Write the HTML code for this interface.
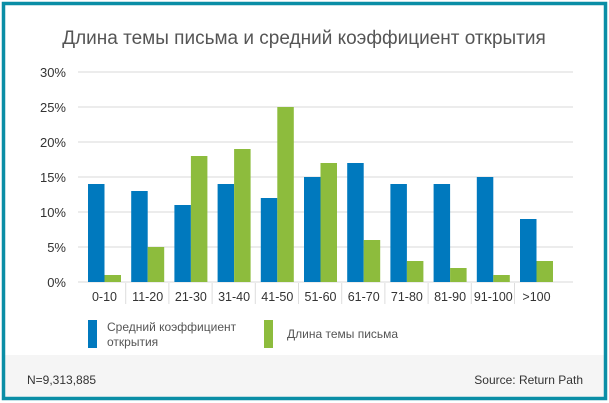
<!DOCTYPE html>
<html><head><meta charset="utf-8"><style>
body{margin:0;background:#fff}
svg{display:block;font-family:"Liberation Sans","DejaVu Sans",sans-serif}
</style></head><body>
<svg width="609" height="403" viewBox="0 0 609 403">
<rect x="0" y="0" width="609" height="403" fill="#fff"/>
<rect x="4" y="355" width="601" height="43" fill="#f5f5f5"/>
<rect x="3.5" y="3.5" width="602" height="395" fill="none" stroke="#0a8ea6" stroke-width="3.5"/>
<text x="304" y="44" text-anchor="middle" font-size="19" fill="#555">Длина темы письма и средний коэффициент открытия</text>
<g stroke="#e6e6e6" stroke-width="1.5">
<line x1="78" x2="573" y1="72" y2="72"/><line x1="78" x2="573" y1="107" y2="107"/>
<line x1="78" x2="573" y1="142" y2="142"/><line x1="78" x2="573" y1="177" y2="177"/>
<line x1="78" x2="573" y1="212" y2="212"/><line x1="78" x2="573" y1="247" y2="247"/>
<line x1="78" x2="573" y1="282" y2="282"/>
</g>
<g font-size="13" fill="#333" text-anchor="end">
<text x="66" y="77">30%</text><text x="66" y="112">25%</text><text x="66" y="147">20%</text>
<text x="66" y="182">15%</text><text x="66" y="217">10%</text><text x="66" y="252">5%</text><text x="66" y="287">0%</text>
</g>
<g id="bars"></g>
<g id="seps" stroke="#ddd" stroke-width="1"></g>
<g id="labs" font-size="12.5" fill="#333" text-anchor="middle"></g>
<rect x="88" y="320" width="9" height="28" fill="#0079be"/>
<text x="107" y="331" font-size="12" fill="#555">Средний коэффициент</text>
<text x="107" y="346" font-size="12" fill="#555">открытия</text>
<rect x="264" y="320" width="9" height="28" fill="#8dbc3d"/>
<text x="287" y="338" font-size="12" fill="#555">Длина темы письма</text>
<text x="27" y="384" font-size="12" fill="#333">N=9,313,885</text>
<text x="583" y="384" font-size="12" fill="#333" text-anchor="end">Source: Return Path</text>
<script>
var b=[14,13,11,14,12,15,17,14,14,15,9],g=[1,5,18,19,25,17,6,3,2,1,3],
l=["0-10","11-20","21-30","31-40","41-50","51-60","61-70","71-80","81-90","91-100",">100"];
var ns="http://www.w3.org/2000/svg",B=document.getElementById("bars"),S=document.getElementById("seps"),L=document.getElementById("labs");
function el(t,a,p){var e=document.createElementNS(ns,t);for(var k in a)e.setAttribute(k,a[k]);p.appendChild(e);return e}
for(var i=0;i<11;i++){var x=84+43.2*i;
el("rect",{x:x+4,y:282-b[i]*7,width:16.5,height:b[i]*7,fill:"#0079be"},B);
el("rect",{x:x+20.5,y:282-g[i]*7,width:16.5,height:g[i]*7,fill:"#8dbc3d"},B);
if(i>0)el("line",{x1:x-1.5,x2:x-1.5,y1:283,y2:304},S);
var t=el("text",{x:x+20.5,y:301},L);t.textContent=l[i];}
</script>
</svg>
</body></html>
